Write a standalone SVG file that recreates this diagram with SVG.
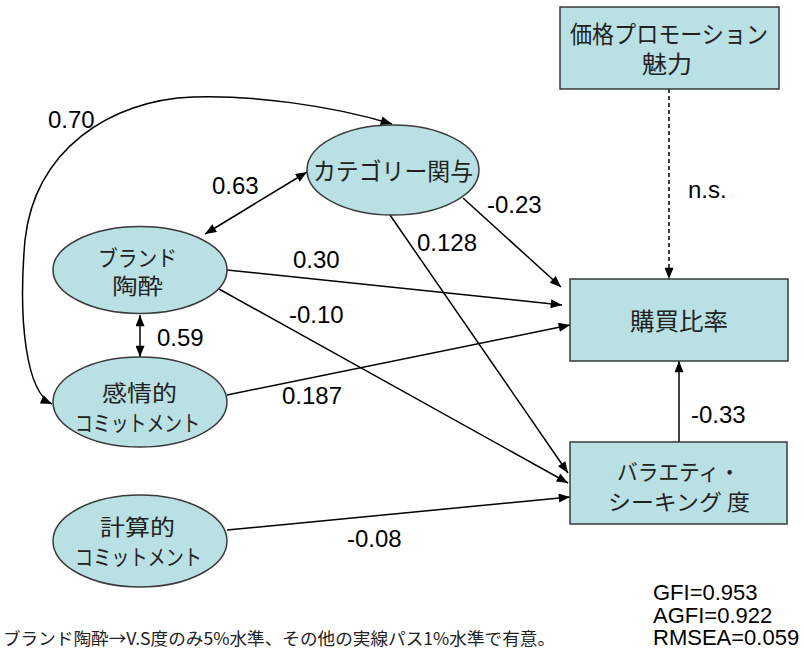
<svg xmlns="http://www.w3.org/2000/svg" width="804" height="650" viewBox="0 0 804 650">
<defs>
<style>
.node{fill:#b9e0e3;stroke:#3a3a3a;stroke-width:1.5}
.jp{font-family:"Noto Sans CJK JP","Noto Sans",sans-serif;font-size:24px;fill:#222;text-anchor:middle}
.jp2{font-family:"Noto Sans CJK JP","Noto Sans",sans-serif;font-size:22px;fill:#222;text-anchor:middle}
.num{font-family:"Liberation Sans",Arial,sans-serif;font-size:24px;fill:#000}
.fit{font-family:"Liberation Sans",Arial,sans-serif;font-size:22px;fill:#000}
.ln{fill:none;stroke:#000;stroke-width:1.5}
</style>
<marker id="a" viewBox="0 0 10 8" refX="10" refY="4" markerWidth="12" markerHeight="9" markerUnits="userSpaceOnUse" orient="auto-start-reverse">
<path d="M0,0 L10,4 L0,8 z" fill="#000"/>
</marker>
</defs>
<rect width="804" height="650" fill="#fff"/>
<g id="connectors">
<path class="ln" d="M392,124 C330,105 250,95 193,97 C110,100 35,150 25,240 C18,320 26,392 52,404" marker-start="url(#a)" marker-end="url(#a)"/>
<line class="ln" x1="205" y1="234" x2="307" y2="172" marker-start="url(#a)" marker-end="url(#a)"/>
<line class="ln" x1="140" y1="315" x2="140" y2="357" marker-start="url(#a)" marker-end="url(#a)"/>
<line class="ln" x1="227" y1="270" x2="562" y2="305" marker-end="url(#a)"/>
<line class="ln" x1="463" y1="198" x2="561" y2="287" marker-end="url(#a)"/>
<line class="ln" x1="227" y1="395" x2="570" y2="325" marker-end="url(#a)"/>
<line class="ln" x1="390" y1="215" x2="568" y2="473" marker-end="url(#a)"/>
<line class="ln" x1="219" y1="289" x2="568" y2="483" marker-end="url(#a)"/>
<line class="ln" x1="227" y1="530" x2="570" y2="497" marker-end="url(#a)"/>
<line class="ln" x1="679" y1="442" x2="679" y2="361" marker-end="url(#a)"/>
<line class="ln" x1="669" y1="89" x2="669" y2="279" stroke-dasharray="4,3" stroke-width="1.2" marker-end="url(#a)"/>
</g>
<g id="price">
<rect class="node" x="560" y="7" width="219" height="82"/>
<text class="jp" x="669" y="43" textLength="198" lengthAdjust="spacingAndGlyphs">価格プロモーション</text>
<text class="jp" x="667" y="73" textLength="50" lengthAdjust="spacingAndGlyphs">魅力</text>
</g>
<g id="purchase">
<rect class="node" x="570" y="279" width="218" height="82"/>
<text class="jp" x="679" y="330" textLength="98" lengthAdjust="spacingAndGlyphs">購買比率</text>
</g>
<g id="variety">
<rect class="node" x="570" y="442" width="217" height="82"/>
<text class="jp2" x="678.5" y="480" textLength="123" lengthAdjust="spacingAndGlyphs">バラエティ・</text>
<text class="jp2" x="679" y="510" textLength="142" lengthAdjust="spacingAndGlyphs">シーキング 度</text>
</g>
<g id="category">
<ellipse class="node" cx="393" cy="170" rx="86" ry="45"/>
<text class="jp" x="393" y="180" textLength="160" lengthAdjust="spacingAndGlyphs">カテゴリー関与</text>
</g>
<g id="brand">
<ellipse class="node" cx="140" cy="270" rx="87" ry="43.5"/>
<text class="jp2" x="137.5" y="266" textLength="79" lengthAdjust="spacingAndGlyphs">ブランド</text>
<text class="jp2" x="137.5" y="294" textLength="51" lengthAdjust="spacingAndGlyphs">陶酔</text>
</g>
<g id="affective">
<ellipse class="node" cx="140" cy="402" rx="87" ry="45"/>
<text class="jp2" x="139.5" y="401" textLength="75" lengthAdjust="spacingAndGlyphs">感情的</text>
<text class="jp2" x="137.5" y="431" textLength="125" lengthAdjust="spacingAndGlyphs">コミットメント</text>
</g>
<g id="calculative">
<ellipse class="node" cx="140" cy="541" rx="87" ry="46"/>
<text class="jp2" x="137.5" y="535" textLength="75" lengthAdjust="spacingAndGlyphs">計算的</text>
<text class="jp2" x="138.5" y="565" textLength="127" lengthAdjust="spacingAndGlyphs">コミットメント</text>
</g>
<g id="labels">
<text class="num" x="48" y="128">0.70</text>
<text class="num" x="212" y="194">0.63</text>
<text class="num" x="487" y="213">-0.23</text>
<text class="num" x="417" y="251">0.128</text>
<text class="num" x="293" y="268">0.30</text>
<text class="num" x="289" y="323">-0.10</text>
<text class="num" x="157" y="346">0.59</text>
<text class="num" x="282" y="404">0.187</text>
<text class="num" x="688" y="198">n.s.</text>
<text class="num" x="691" y="423">-0.33</text>
<text class="num" x="347" y="547">-0.08</text>
</g>
<g id="fit">
<text class="fit" x="653" y="600">GFI=0.953</text>
<text class="fit" x="653" y="623">AGFI=0.922</text>
<text class="fit" x="653" y="645">RMSEA=0.059</text>
</g>
<text x="3" y="645" font-family="'Noto Sans CJK JP',sans-serif" font-size="17" fill="#222" textLength="552" lengthAdjust="spacingAndGlyphs">ブランド陶酔→V.S度のみ5%水準、その他の実線パス1%水準で有意。</text>
</svg>
